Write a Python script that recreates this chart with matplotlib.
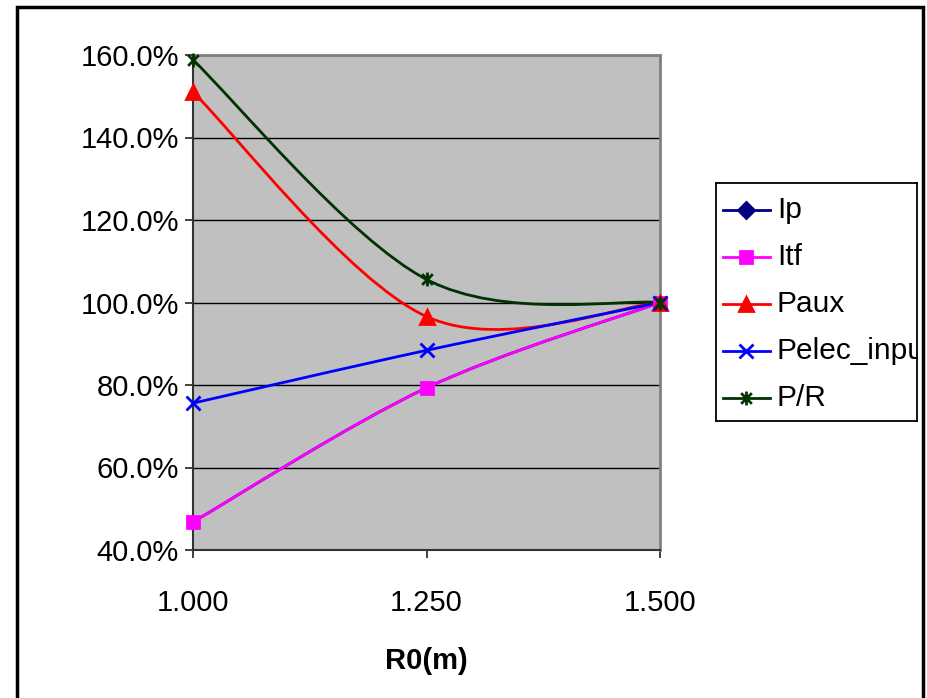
# R0 scan - normalised quantities, Excel style smoothed lines

import matplotlib
matplotlib.use('Agg')
import matplotlib.pyplot as plt
from matplotlib.path import Path
from matplotlib.patches import PathPatch, Rectangle
from matplotlib.lines import Line2D
from matplotlib.ticker import FuncFormatter

plt.rcParams['font.family'] = ['Liberation Sans', 'DejaVu Sans']

# data
r0 = [1.000, 1.250, 1.500]
ip = [46.8, 79.3, 100.0]
itf = [46.8, 79.3, 100.0]
paux = [151.0, 96.6, 100.0]
pelec_input = [75.6, 88.4, 100.0]
p_over_r = [158.8, 105.6, 100.0]

series_names = ['Ip', 'Itf', 'Paux', 'Pelec_input', 'P/R']
series_values = [ip, itf, paux, pelec_input, p_over_r]
colors = ['#000080', '#FF00FF', '#FF0000', '#0000FF', '#003300']

# Excel's asterisk marker: an x with a vertical bar through it
star = Path([(-1, -1), (1, 1), (-1, 1), (1, -1), (0, -1.3), (0, 1.3)],
            [Path.MOVETO, Path.LINETO] * 3)
markers = ['D', 's', '^', 'x', star]
msizes = [8, 9, 10, 10, 10]

y_ticks = [40, 60, 80, 100, 120, 140, 160]


def smooth_path(xs, ys):
    # catmull-rom style bezier, like Excel's "smoothed line"
    pts = list(zip(xs, ys))
    verts = [pts[0]]
    codes = [Path.MOVETO]
    n = len(pts)
    for i in range(n - 1):
        p0 = pts[i - 1] if i > 0 else pts[i]
        p1 = pts[i]
        p2 = pts[i + 1]
        p3 = pts[i + 2] if i + 2 < n else pts[i + 1]
        c1 = (p1[0] + (p2[0] - p0[0]) / 6, p1[1] + (p2[1] - p0[1]) / 6)
        c2 = (p2[0] - (p3[0] - p1[0]) / 6, p2[1] - (p3[1] - p1[1]) / 6)
        verts += [c1, c2, p2]
        codes += [Path.CURVE4] * 3
    return Path(verts, codes)


fig = plt.figure(figsize=(9.28, 6.98), dpi=100)
ax = fig.add_axes([193 / 928, 1 - 550 / 698, 467 / 928, 495 / 698])
ax.set_facecolor('#C0C0C0')

for name, vals, col, mk, ms in zip(series_names, series_values, colors, markers, msizes):
    ax.add_patch(PathPatch(smooth_path(r0, vals), fill=False, edgecolor=col,
                           linewidth=2.0, zorder=3, clip_on=False))
    # Ip sits right under Itf, keep its diamonds hidden behind the squares
    plot_ms = 6 if name == 'Ip' else ms
    ax.plot(r0, vals, linestyle='none', marker=mk, markersize=plot_ms, color=col,
            markeredgewidth=2 if name != 'Ip' else 0.5, zorder=4, clip_on=False)

ax.set_xlim(1.0, 1.5)
ax.set_ylim(40, 160)
ax.set_xticks(r0)
ax.set_xticklabels(['%.3f' % v for v in r0])
ax.set_yticks(y_ticks)
ax.yaxis.set_major_formatter(FuncFormatter(lambda v, p: '%.1f%%' % v))
ax.grid(axis='y', color='black', linewidth=1.0, zorder=1)
ax.set_axisbelow(True)

ax.tick_params(axis='both', labelsize=21, direction='out', length=6, width=1.3, color='#333333')
ax.tick_params(axis='y', pad=4)
ax.tick_params(axis='x', pad=22)
ax.set_xlabel('R0(m)', fontsize=21, fontweight='bold', labelpad=22)

for side in ['left', 'bottom']:
    ax.spines[side].set_color('#333333')
    ax.spines[side].set_linewidth(1.5)
for side in ['top', 'right']:
    ax.spines[side].set_color('#808080')
    ax.spines[side].set_linewidth(2.0)

# legend drawn by hand so the long name gets clipped like in the original
lax = fig.add_axes([716 / 928, 1 - 421 / 698, 201 / 928, 238 / 698])
lax.set_xlim(0, 201)
lax.set_ylim(238, 0)
lax.set_xticks([])
lax.set_yticks([])
for s in lax.spines.values():
    s.set_color('black')
    s.set_linewidth(1.3)
for i, (name, col, mk, ms) in enumerate(zip(series_names, colors, markers, msizes)):
    yy = 27 + i * 47
    lax.add_line(Line2D([7, 54], [yy, yy], color=col, linewidth=2.0))
    lax.plot([30.5], [yy], marker=mk, markersize=ms, color=col, markeredgewidth=2)
    lax.text(61, yy, name, fontsize=21.5, va='center', ha='left', clip_on=True)

# outer chart border
fig.patches.append(Rectangle((17 / 928, -0.05), 906 / 928, 1.05 - 7 / 698,
                             transform=fig.transFigure, fill=False,
                             edgecolor='black', linewidth=2.5))

fig.savefig('out.png', dpi=100)
